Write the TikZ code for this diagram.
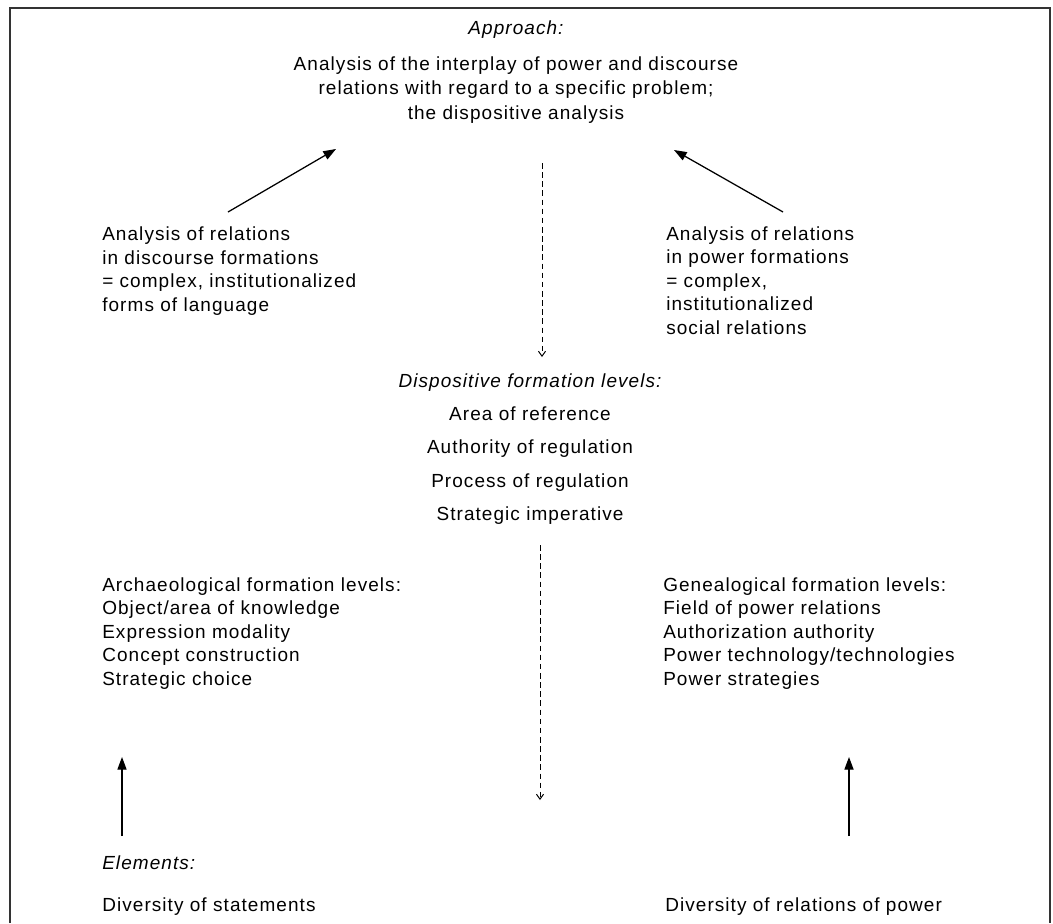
\documentclass[tikz,border=0pt]{standalone}
\usepackage{fontspec}
\setmainfont{Liberation Sans}[LetterSpace=5.6]
\usetikzlibrary{arrows.meta,positioning}

\tikzset{
  txt/.style={inner sep=0pt, font=\fontsize{13.5}{16.6}\selectfont},
  ltxt/.style={txt, align=left, anchor=base west},
  ctxt/.style={txt, align=center, anchor=base},
  arr/.style={line width=0.9pt, -{Triangle[length=9pt,width=6.5pt]}},
  darr/.style={line width=0.7pt, dash pattern=on 4pt off 2.5pt, -{Straight Barb[length=3.5pt,width=5pt]}}
}

\begin{document}
\begin{tikzpicture}[x=0.025cm, y=-0.025cm]
    \useasboundingbox (0,0) rectangle (1053,923);
    \draw[line width=1.4pt, black!80] (10,923) -- (10,8) -- (1050,8) -- (1050,923); % frame

    % base anchor of a multi-line node = baseline of its last line
    \node[ctxt] (approach) at (516,34) {\itshape Approach:};
    \node[ctxt, font=\fontsize{13.5}{17.1}\selectfont] (main) at (516,119)
        {Analysis of the interplay of power and discourse\\
        relations with regard to a specific problem;\\ the dispositive analysis};

    \node[ltxt] (discourse) at (102,311) {Analysis of relations\\ in discourse formations\\
        = complex, institutionalized\\ forms of language};
    \node[ltxt] (power) at (666,334) {Analysis of relations\\ in power formations\\
        = complex,\\ institutionalized\\ social relations};

    \node[ctxt] (disp) at (530,387) {\itshape Dispositive formation levels:};
    \node[ctxt] (area) at (530,420) {Area of reference};
    \node[ctxt] (authority) at (530,453) {Authority of regulation};
    \node[ctxt] (process) at (530,487) {Process of regulation};
    \node[ctxt] (strategic) at (530,520) {Strategic imperative};

    \node[ltxt] (arch) at (102,685) {Archaeological formation levels:\\ Object/area of knowledge\\
        Expression modality\\ Concept construction\\ Strategic choice};
    \node[ltxt] (genea) at (663,685) {Genealogical formation levels:\\ Field of power relations\\
        Authorization authority\\ Power technology/technologies\\ Power strategies};

    \node[ltxt] (elements) at (102,869) {\itshape Elements:};
    \node[ltxt] (divstat) at (102,911) {Diversity of statements};
    \node[ltxt] (divpow) at (665,911) {Diversity of relations of power};

    % arrow ends
    \coordinate (dl) at (228,212); \coordinate (ml) at (336,149);
    \coordinate (pr) at (783,212); \coordinate (mr) at (674,150);
    \coordinate (d1) at (542,163); \coordinate (d2) at (542,357);
    \coordinate (d3) at (540,545); \coordinate (d4) at (540,800);
    \coordinate (al) at (122,836); \coordinate (at) at (122,757);
    \coordinate (gl) at (849,836); \coordinate (gt) at (849,757);

    \draw[arr] (dl) -- (ml);
    \draw[arr] (pr) -- (mr);
    \draw[darr] (d1) -- (d2);
    \draw[darr] (d3) -- (d4);
    \draw[arr] (al) -- (at);
    \draw[arr] (gl) -- (gt);
\end{tikzpicture}
\end{document}
